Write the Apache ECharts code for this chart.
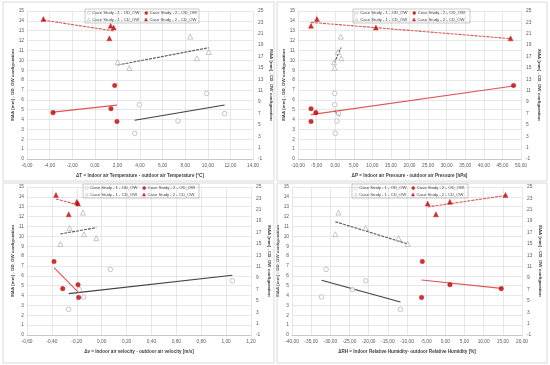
<!DOCTYPE html>
<html><head><meta charset="utf-8">
<script src="https://cdn.jsdelivr.net/npm/echarts@6/dist/echarts.min.js"></script>
<style>html,body{margin:0;padding:0;background:#fff}#c{width:550px;height:365px}</style>
</head><body><div id="c"></div>
<script>
// ---- shared y values (OD_OW on left axis, CD_OW on right axis) ----
const yOD1 = [2.6, 3.85, 4.6, 5.5, 6.65];
const yCD1 = [15.0, 16.0, 16.7, 17.8, 20.5];
const yOD2 = [3.8, 4.7, 5.1, 7.45];
const yCD2 = [20.2, 22.1, 22.4, 23.6];

// ---- panel 1: ΔT ----
const dT_OD1 = [3.53, 7.36, 11.49, 3.94, 9.9];
const dT_CD1 = [3.06, 2.02, 9.04, 10.08, 8.45];
const dT_OD2 = [1.96, -3.7, 1.43, 1.76];
const dT_CD2 = [1.29, 1.67, 1.4, -4.55];
const dT_tOD1 = [[3.53, 3.92], [11.49, 5.48]];
const dT_tCD1 = [[2.02, 15.5], [10.08, 18.55]];
const dT_tOD2 = [[-3.7, 4.75], [1.96, 5.46]];
const dT_tCD2 = [[-4.55, 23.4], [1.67, 21.5]];

// ---- panel 2: ΔP ----
const dP_OD1 = [0.03, 0.47, 0.9, -0.15, -0.15];
const dP_CD1 = [-0.15, -0.33, 1.64, 0.74, 1.5];
const dP_OD2 = [-6.5, -5.2, -6.5, 48.0];
const dP_CD2 = [47.2, 10.95, -6.5, -4.9];
const dP_tOD1 = [[-0.15, 4.9], [1.2, 4.35]];
const dP_tCD1 = [[-0.3, 15.8], [1.6, 18.6]];
const dP_tOD2 = [[-6.5, 4.5], [48.0, 7.4]];
const dP_tCD2 = [[-6.5, 23.0], [47.2, 20.15]];

// ---- panel 3: Δv ----
const dv_OD1 = [-0.265, -0.145, -0.18, 1.05, 0.07];
const dv_CD1 = [-0.332, -0.043, -0.142, -0.257, -0.15];
const dv_OD2 = [-0.185, -0.313, -0.19, -0.383];
const dv_CD2 = [-0.265, -0.19, -0.2, -0.367];
const dv_tOD1 = [[-0.265, 4.19], [1.05, 6.05]];
const dv_tCD1 = [[-0.332, 16.75], [-0.043, 17.86]];
const dv_tOD2 = [[-0.383, 6.82], [-0.185, 4.29]];
const dv_tCD2 = [[-0.367, 22.9], [-0.19, 21.85]];

// ---- panel 4: ΔRH ----
const dRH_OD1 = [-11.7, -32.3, -24.2, -20.75, -31.1];
const dRH_CD1 = [-9.8, -12.2, -28.7, -20.8, -27.9];
const dRH_OD2 = [-6.2, 14.6, 1.2, -6.0];
const dRH_CD2 = [-2.45, -4.6, 1.2, 15.7];
const dRH_tOD1 = [[-32.3, 5.54], [-11.7, 3.34]];
const dRH_tCD1 = [[-28.7, 18.9], [-9.8, 15.0]];
const dRH_tOD2 = [[-6.2, 5.57], [14.6, 4.73]];
const dRH_tCD2 = [[-4.6, 21.5], [15.7, 23.5]];

const names = ['Case Study - 1 - OD_OW', 'Case Study - 2 - OD_OW', 'Case Study - 1 - CD_OW', 'Case Study - 2 - CD_OW'];
const xTitles = [
  'ΔT = Indoor air Temperature - outdoor air Temperature [°C]',
  'ΔP = Indoor air Pressure - outdoor air Pressure [hPa]',
  'Δv = Indoor air velocity - outdoor air velocity [m/s]',
  'ΔRH = Indoor Relative Humidity- outdoor Relative Humidity [%]'
];
const xRanges = [[-6, 14, 2], [-10, 50, 5], [-0.6, 1.2, 0.2], [-40, 20, 5]];
const panels = [
  {ox: [dT_OD1, dT_CD1, dT_OD2, dT_CD2], t: [dT_tOD1, dT_tCD1, dT_tOD2, dT_tCD2]},
  {ox: [dP_OD1, dP_CD1, dP_OD2, dP_CD2], t: [dP_tOD1, dP_tCD1, dP_tOD2, dP_tCD2]},
  {ox: [dv_OD1, dv_CD1, dv_OD2, dv_CD2], t: [dv_tOD1, dv_tCD1, dv_tOD2, dv_tCD2]},
  {ox: [dRH_OD1, dRH_CD1, dRH_OD2, dRH_CD2], t: [dRH_tOD1, dRH_tCD1, dRH_tOD2, dRH_tCD2]}
];

// layout
const grids = [
  {left: 27, top: 11, width: 226, height: 148},
  {left: 298, top: 11, width: 223, height: 148},
  {left: 27, top: 187, width: 224, height: 148},
  {left: 292, top: 187, width: 230, height: 148}
];
const legendBoxes = [[85, 9, 114, 14], [353, 9, 117, 14], [83, 184, 116, 14], [352, 184, 116, 14]];
const frames = [[3, 2, 271, 179], [277, 2, 270, 179], [3, 183, 271, 180], [277, 183, 270, 180]];

const FONT = 'Liberation Sans, Arial, sans-serif';
const lblColor = '#595959';
const RED = '#c00000';
const GRAY = '#a6a6a6';

const option = {
  animation: false,
  backgroundColor: '#fff',
  grid: grids.map(g => Object.assign({containLabel: false}, g)),
  xAxis: [], yAxis: [], series: [], legend: [], graphic: []
};

const symStyles = [
  {symbol: 'circle', symbolSize: 4.6, itemStyle: {color: '#fff', borderColor: GRAY, borderWidth: 0.8}},
  {symbol: 'circle', symbolSize: 4.6, itemStyle: {color: RED, borderColor: RED, borderWidth: 0.4}},
  {symbol: 'triangle', symbolSize: 5, itemStyle: {color: '#fff', borderColor: GRAY, borderWidth: 0.8}},
  {symbol: 'triangle', symbolSize: 5, itemStyle: {color: RED, borderColor: RED, borderWidth: 0.4}}
];
const ys = [yOD1, yOD2, yCD1, yCD2];
const trendStyles = [
  {color: '#404040', width: 1.1, type: 'solid'},
  {color: '#e05555', width: 1.1, type: 'solid'},
  {color: '#595959', width: 1.1, type: [3, 1]},
  {color: '#e05555', width: 1.1, type: [3, 1]}
];

panels.forEach((p, i) => {
  const [mn, mx, iv] = xRanges[i];
  option.xAxis.push({
    gridIndex: i, type: 'value', min: mn, max: mx, interval: iv,
    name: xTitles[i], nameLocation: 'middle', nameGap: 14,
    nameTextStyle: {fontSize: 4.6, fontWeight: 'bold', color: '#404040', fontFamily: FONT},
    axisLine: {show: true, onZero: false, lineStyle: {color: '#bfbfbf', width: 0.8}},
    axisTick: {show: false},
    axisLabel: {fontSize: 4.8, color: lblColor, fontFamily: FONT, margin: 4,
      formatter: v => (Math.round(v * 100) / 100).toFixed(2).replace('.', ',')},
    splitLine: {show: true, lineStyle: {color: '#d9d9d9', width: 0.6}}
  });
  option.yAxis.push({
    gridIndex: i, type: 'value', min: 0, max: 15, interval: 1, position: 'left',
    name: 'MAA [mm] - OD_OW configuration', nameLocation: 'middle', nameGap: 12, nameRotate: 90,
    nameTextStyle: {fontSize: 4.4, fontWeight: 'bold', color: '#404040', fontFamily: FONT},
    axisLine: {show: false}, axisTick: {show: false},
    axisLabel: {fontSize: 4.8, color: lblColor, fontFamily: FONT, margin: 3},
    splitLine: {show: true, lineStyle: {color: '#d9d9d9', width: 0.6}}
  });
  option.yAxis.push({
    gridIndex: i, type: 'value', min: -1, max: 25, interval: 2, position: 'right',
    name: 'MAA [mm] - CD_OW configuration', nameLocation: 'middle', nameGap: 16, nameRotate: -90,
    nameTextStyle: {fontSize: 4.4, fontWeight: 'bold', color: '#404040', fontFamily: FONT},
    axisLine: {show: false}, axisTick: {show: false},
    axisLabel: {fontSize: 4.8, color: lblColor, fontFamily: FONT, margin: 5},
    splitLine: {show: false}
  });
  // series order: OD1, OD2, CD1, CD2
  const xs = [p.ox[0], p.ox[2], p.ox[1], p.ox[3]];
  const ts = [p.t[0], p.t[2], p.t[1], p.t[3]];
  for (let k = 0; k < 4; k++) {
    const yIdx = i * 2 + (k < 2 ? 0 : 1);
    option.series.push({
      type: 'line', name: 'trend' + i + k, xAxisIndex: i, yAxisIndex: yIdx,
      data: ts[k], showSymbol: false, symbol: 'none', silent: true, z: 2,
      lineStyle: trendStyles[k]
    });
  }
  for (let k = 0; k < 4; k++) {
    const yIdx = i * 2 + (k < 2 ? 0 : 1);
    option.series.push(Object.assign({
      type: 'scatter', name: names[k], xAxisIndex: i, yAxisIndex: yIdx,
      data: xs[k].map((x, j) => [x, ys[k][j]]), z: 3
    }, JSON.parse(JSON.stringify(symStyles[k]))));
  }
  const lb = legendBoxes[i];
  const legCommon = {
    left: lb[0] + 2, itemWidth: 3, itemHeight: 3, itemGap: 5, padding: 0,
    textStyle: {fontSize: 4.2, color: '#404040', fontFamily: FONT, padding: [0, 0, 0, -3]},
    itemStyle: {borderWidth: 0.5},
    selectedMode: false
  };
  option.legend.push(Object.assign({}, legCommon, {top: lb[1] + 2, data: [names[0], names[1]]}));
  option.legend.push(Object.assign({}, legCommon, {top: lb[1] + 8.5, data: [names[2], names[3]]}));
  option.graphic.push({type: 'rect', shape: {x: lb[0], y: lb[1], width: lb[2], height: lb[3]},
    style: {fill: 'none', stroke: '#a6a6a6', lineWidth: 0.6}, z: 10});
  const f = frames[i];
  option.graphic.push({type: 'rect', shape: {x: f[0], y: f[1], width: f[2], height: f[3]},
    style: {fill: 'none', stroke: '#d0d0d0', lineWidth: 0.8}, z: 10});
});

const chart = echarts.init(document.getElementById('c'), null, {renderer: 'canvas'});
chart.setOption(option);
</script>
</body></html>
